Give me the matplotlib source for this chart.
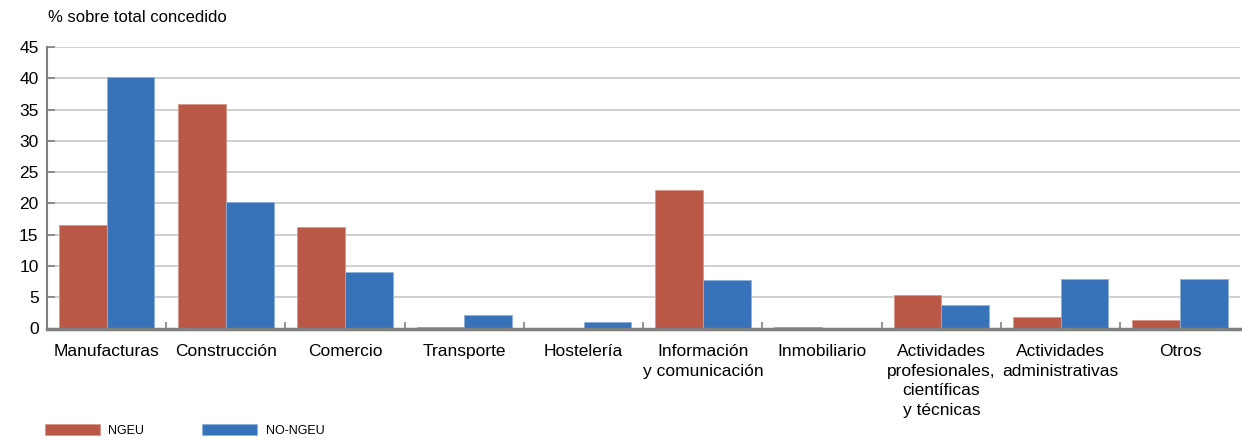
import matplotlib.pyplot as plt
import numpy as np

plt.rcParams['font.family'] = ['Liberation Sans', 'DejaVu Sans']

sectores = ['Manufacturas', 'Construcción', 'Comercio', 'Transporte', 'Hostelería',
            'Información\ny comunicación', 'Inmobiliario',
            'Actividades\nprofesionales,\ncientíficas\ny técnicas',
            'Actividades\nadministrativas', 'Otros']
ngeu = [16.5, 35.9, 16.2, 0.3, 0.0, 22.2, 0.3, 5.3, 1.9, 1.4]
no_ngeu = [40.2, 20.3, 9.0, 2.1, 1.0, 7.8, 0.0, 3.7, 7.9, 7.9]

ROJO = '#b95846'
AZUL = '#3873b9'
GRIS = '#808080'
WIDTH = 0.4

fig = plt.figure(figsize=(12.42, 4.38), dpi=100)
ax = fig.add_axes([0.0378, 0.25, 0.9602, 0.6427])

ind = np.arange(len(sectores))
b1 = ax.bar(ind - WIDTH / 2, ngeu, WIDTH, color=ROJO, edgecolor='#d9958a',
            linewidth=0.6, label='NGEU', zorder=3)
b2 = ax.bar(ind + WIDTH / 2, no_ngeu, WIDTH, color=AZUL, edgecolor='#8fb0da',
            linewidth=0.6, label='NO-NGEU', zorder=3)

ax.set_xlim(-0.5, len(sectores) - 0.5)
ax.set_ylim(0, 45)
ax.set_yticks(np.arange(0, 46, 5))
ax.yaxis.grid(True, color='#c8c8c8', linewidth=1.2, zorder=0)
ax.set_axisbelow(True)

ax.set_xticks(ind)
ax.set_xticklabels(sectores, fontsize=12.5, linespacing=1.4)
ax.set_xticks(ind[1:] - 0.5, minor=True)
ax.tick_params(axis='x', which='major', length=0, pad=11)
ax.tick_params(axis='x', which='minor', direction='in', length=5, width=1.2, color=GRIS)
ax.tick_params(axis='y', direction='in', length=6, width=1.2, color=GRIS,
               labelsize=12.5, pad=6)

for side in ('top', 'right'):
    ax.spines[side].set_visible(False)
ax.spines['left'].set_color(GRIS)
ax.spines['left'].set_linewidth(1.5)
ax.spines['bottom'].set_color(GRIS)
ax.spines['bottom'].set_linewidth(2.5)
ax.spines['bottom'].set_zorder(4)

fig.text(0.039, 0.942, '% sobre total concedido', fontsize=12, ha='left', va='bottom')

fig.legend(handles=[b1, b2], loc='lower left', bbox_to_anchor=(0.035, 0.0),
           ncol=2, frameon=False, handlelength=4.4, handleheight=0.9,
           handletextpad=0.7, columnspacing=4.6, borderaxespad=0, borderpad=0.1,
           prop={'family': ['Liberation Sans Narrow', 'Liberation Sans'], 'size': 9})

fig.savefig('out.png', dpi=100)
